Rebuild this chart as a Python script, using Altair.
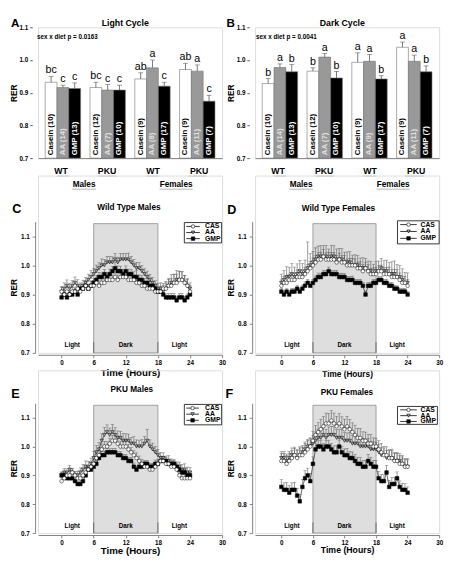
import altair as alt
import pandas as pd

FONT = "Liberation Sans"
GRAY = "#808080"

# ---------------- Panels A / B : bar data ----------------
groups = ["WT M", "PKU M", "WT F", "PKU F"]
group_text = ["WT", "PKU", "WT", "PKU"]
sexes = ["Males", "Females"]
diets = ["Casein", "AA", "GMP"]
bar_fills = ["white", "#999999", "black"]
bar_label_colors = ["black", "#e0e0e0", "white"]

light_mean = [0.932, 0.916, 0.913, 0.916, 0.908, 0.908, 0.942, 0.976, 0.920, 0.971, 0.966, 0.874]
light_sem = [0.018, 0.007, 0.017, 0.016, 0.017, 0.015, 0.019, 0.024, 0.012, 0.019, 0.019, 0.018]
light_letters = ["bc", "c", "c", "bc", "c", "c", "ab", "a", "c", "ab", "a", "c"]
light_n = [10, 14, 13, 12, 7, 10, 9, 8, 17, 9, 11, 7]

dark_mean = [0.928, 0.977, 0.964, 0.966, 1.009, 0.945, 0.993, 0.996, 0.942, 1.039, 0.996, 0.964]
dark_sem = [0.015, 0.011, 0.022, 0.010, 0.011, 0.020, 0.029, 0.021, 0.010, 0.016, 0.019, 0.018]
dark_letters = ["b", "a", "b", "b", "a", "b", "a", "a", "b", "a", "a", "b"]
dark_n = [10, 14, 13, 12, 7, 10, 9, 9, 17, 9, 11, 7]

bar_ticks = [0.7, 0.8, 0.9, 1.0, 1.1]

# ---------------- Panels C-F : time courses ----------------
hours = [i / 2 for i in range(49)]
series = ["CAS", "AA", "GMP"]
dark_period = [6, 18]
period_labels = ["Light", "Dark", "Light"]
period_label_hours = [2, 12, 22]
time_ticks = [0, 6, 12, 18, 24, 30]
rer_ticks = [0.7, 0.8, 0.9, 1.0, 1.1]

wtm_cas = [.91,.90,.91,.90,.91,.91,.92,.91,.92,.93,.92,.93,.93,.94,.93,.94,.94,.95,.95,.95,.96,.95,.96,.96,.96,.95,.95,.95,.94,.94,.93,.93,.92,.92,.92,.91,.91,.91,.92,.92,.93,.93,.94,.94,.95,.95,.94,.93,.91]
wtm_aa = [.91,.92,.93,.92,.93,.94,.93,.92,.93,.94,.95,.96,.97,.98,.99,1.00,1.00,1.01,1.01,1.01,1.02,1.01,1.02,1.02,1.02,1.02,1.01,1.00,.99,.99,.98,.97,.96,.95,.94,.93,.92,.92,.91,.92,.93,.94,.94,.95,.95,.95,.94,.93,.92]
wtm_gmp = [.89,.90,.89,.90,.90,.91,.90,.92,.92,.93,.92,.93,.94,.95,.96,.96,.97,.96,.97,.98,.99,.98,.98,.97,.98,.97,.97,.96,.96,.95,.95,.94,.94,.93,.93,.92,.91,.91,.90,.89,.89,.89,.89,.88,.89,.89,.88,.89,.90]
wtm_cas_sem = [.015,.012,.014,.013,.015,.016,.015,.014,.016,.018,.016,.017,.018,.016,.017,.018,.017,.018,.019,.017,.018,.017,.016,.018,.017,.016,.018,.017,.016,.015,.016,.015,.016,.014,.015,.016,.015,.017,.018,.020,.022,.025,.028,.030,.030,.028,.025,.022,.020]
wtm_aa_sem = [.018,.020,.020,.019,.018,.020,.021,.020,.019,.018,.020,.022,.020,.021,.020,.022,.020,.021,.020,.019,.020,.018,.020,.021,.020,.022,.021,.020,.020,.019,.020,.018,.020,.019,.018,.017,.018,.020,.022,.025,.026,.028,.030,.032,.030,.028,.026,.024,.020]
wtm_gmp_sem = [.012,.013,.012,.014,.013,.012,.014,.013,.015,.014,.013,.015,.014,.016,.015,.014,.016,.015,.017,.016,.020,.018,.017,.016,.018,.017,.016,.018,.022,.017,.016,.015,.016,.015,.014,.015,.013,.014,.013,.012,.013,.014,.013,.012,.013,.014,.013,.012,.013]

wtf_cas = [.93,.94,.94,.95,.95,.95,.96,.96,.96,.97,.98,.99,1.00,1.01,1.02,1.02,1.03,1.02,1.02,1.02,1.02,1.01,1.02,1.01,1.01,1.00,1.00,1.00,1.00,.99,.99,.98,.99,.98,.97,.97,.97,.98,.98,.97,.97,.97,.96,.96,.96,.95,.94,.94,.93]
wtf_aa = [.94,.95,.96,.96,.97,.96,.97,.98,.97,.98,.99,1.00,1.01,1.02,1.03,1.03,1.03,1.03,1.02,1.03,1.03,1.02,1.02,1.02,1.01,1.01,1.01,1.00,1.00,1.00,.99,.99,.99,.98,.98,.97,.98,.98,.99,.98,.98,.97,.97,.97,.96,.96,.95,.94,.94]
wtf_gmp = [.91,.90,.91,.90,.91,.91,.92,.91,.92,.93,.94,.93,.94,.95,.96,.96,.97,.97,.98,.97,.97,.97,.96,.96,.96,.95,.95,.95,.94,.94,.94,.93,.90,.93,.93,.94,.94,.95,.95,.94,.94,.93,.93,.92,.92,.91,.91,.91,.90]
wtf_cas_sem = [.020,.022,.021,.020,.023,.022,.024,.022,.021,.023,.022,.024,.025,.023,.024,.025,.024,.023,.025,.024,.023,.024,.022,.023,.024,.022,.023,.024,.022,.021,.022,.023,.021,.022,.020,.021,.022,.020,.021,.022,.023,.024,.025,.026,.025,.024,.023,.022,.021]
wtf_aa_sem = [.030,.032,.035,.033,.036,.034,.035,.037,.036,.038,.090,.040,.038,.040,.036,.038,.037,.039,.036,.038,.037,.036,.038,.037,.035,.036,.037,.035,.036,.034,.035,.036,.034,.035,.033,.034,.033,.035,.034,.036,.038,.040,.042,.045,.043,.040,.038,.036,.034]
wtf_gmp_sem = [.010,.011,.010,.012,.011,.010,.012,.011,.012,.013,.012,.013,.012,.013,.014,.013,.012,.013,.014,.013,.012,.013,.012,.013,.012,.011,.012,.013,.012,.011,.012,.011,.012,.011,.012,.011,.012,.013,.012,.011,.012,.011,.012,.011,.010,.011,.010,.011,.010]

pkm_cas = [.88,.89,.90,.90,.91,.90,.89,.89,.90,.91,.92,.93,.94,.96,.97,.99,1.00,1.00,1.01,1.02,1.02,1.01,1.00,1.00,1.00,.99,.98,.97,.96,.95,.94,.93,.93,.92,.92,.93,.94,.95,.95,.94,.94,.93,.93,.92,.90,.89,.89,.89,.89]
pkm_aa = [.90,.91,.91,.92,.91,.90,.90,.91,.92,.93,.93,.94,.96,.98,.99,1.02,1.04,1.05,1.04,1.05,1.04,1.03,1.03,1.02,1.02,1.02,1.01,1.01,1.00,1.00,1.00,1.01,1.02,1.00,.99,.98,.97,.96,.96,.95,.95,.94,.94,.93,.93,.92,.92,.91,.91]
pkm_gmp = [.90,.90,.89,.89,.89,.88,.87,.87,.88,.90,.92,.92,.93,.94,.96,.97,.97,.98,.98,.98,.98,.97,.97,.96,.96,.95,.95,.93,.92,.93,.93,.94,.94,.93,.93,.94,.94,.95,.95,.95,.94,.94,.94,.93,.92,.91,.91,.90,.90]
pkm_cas_sem = [.012,.013,.012,.014,.013,.012,.014,.013,.015,.016,.015,.016,.017,.018,.017,.019,.018,.017,.019,.018,.017,.018,.019,.018,.017,.018,.017,.016,.018,.017,.016,.017,.016,.015,.016,.015,.016,.017,.016,.015,.016,.017,.016,.015,.016,.018,.017,.016,.015]
pkm_aa_sem = [.012,.014,.013,.015,.014,.013,.015,.016,.018,.020,.019,.020,.022,.023,.025,.024,.026,.025,.024,.026,.025,.024,.023,.025,.024,.023,.022,.024,.023,.022,.024,.025,.040,.023,.022,.021,.020,.019,.018,.017,.018,.017,.016,.017,.016,.018,.020,.019,.017]
pkm_gmp_sem = [.010,.011,.010,.011,.012,.011,.010,.011,.012,.013,.012,.013,.012,.013,.014,.013,.014,.013,.012,.013,.014,.013,.012,.013,.012,.011,.012,.013,.012,.011,.012,.011,.012,.011,.012,.013,.012,.011,.012,.013,.012,.011,.012,.011,.012,.011,.012,.011,.010]

pkf_cas = [.95,.95,.94,.95,.96,.97,.96,.97,.97,.98,.99,1.00,1.02,1.04,1.05,1.06,1.07,1.08,1.08,1.09,1.08,1.07,1.08,1.07,1.06,1.07,1.06,1.05,1.04,1.03,1.03,1.02,1.02,1.01,1.01,1.00,1.00,.99,.98,.97,.97,.96,.96,.95,.95,.94,.94,.93,.93]
pkf_aa = [.96,.96,.95,.96,.97,.97,.96,.97,.98,.99,1.00,1.00,1.01,1.02,1.03,1.03,1.04,1.03,1.04,1.04,1.04,1.03,1.03,1.03,1.02,1.02,1.02,1.01,1.01,1.01,1.00,1.00,1.00,1.00,.99,.99,.99,.98,.97,.97,.96,.96,.96,.95,.95,.95,.94,.93,.93]
pkf_gmp = [.86,.85,.85,.84,.85,.85,.83,.81,.86,.89,.90,.88,.94,.99,1.00,1.00,.99,1.00,1.00,.99,.98,.98,1.00,.98,.97,.97,.96,.96,.95,.94,.94,.93,.93,.95,.94,.93,.93,.89,.88,.88,.91,.86,.87,.87,.89,.86,.85,.85,.84]
pkf_cas_sem = [.025,.026,.028,.027,.026,.028,.030,.029,.028,.030,.031,.030,.032,.034,.033,.035,.034,.036,.035,.034,.036,.035,.034,.033,.035,.034,.033,.032,.034,.033,.032,.031,.030,.032,.031,.030,.029,.030,.031,.030,.029,.030,.031,.030,.029,.028,.030,.029,.028]
pkf_aa_sem = [.022,.023,.024,.023,.025,.024,.026,.025,.024,.026,.025,.027,.028,.027,.029,.028,.030,.029,.028,.030,.029,.028,.030,.029,.028,.027,.029,.028,.027,.026,.028,.027,.026,.027,.028,.026,.025,.027,.026,.025,.026,.027,.026,.025,.026,.025,.024,.025,.024]
pkf_gmp_sem = [.025,.024,.026,.025,.024,.026,.025,.024,.026,.027,.025,.026,.024,.022,.021,.022,.020,.021,.022,.021,.022,.023,.022,.021,.022,.023,.022,.021,.022,.023,.022,.021,.022,.023,.022,.021,.022,.024,.023,.022,.024,.023,.022,.023,.022,.021,.022,.021,.020]

shape_range = ["circle", "triangle-down", "square"]
fill_range = ["white", "#a0a0a0", "black"]

# ---------------- layout ----------------
W = 190
H1, H2, H3 = 135, 183, 168


def label(txt, x, y, size, weight="bold", align="left", baseline="top"):
    return alt.Chart(pd.DataFrame({"t": [txt]})).mark_text(
        font=FONT, fontSize=size, fontWeight=weight, align=align, baseline=baseline, color="black"
    ).encode(x=alt.value(x), y=alt.value(y), text="t:N")


def bar_panel(letter, letter_x, title, pnote, pnote_x, means, sems, letters, ns):
    H = H1
    labels = [f"{d} ({n})" for d, n in zip(diets * len(groups), ns)]
    df = pd.DataFrame({
        "group": [g for g in groups for _ in diets],
        "diet": diets * len(groups),
        "mean": means, "sem": sems, "letter": letters, "label": labels,
    })
    gscale = alt.Scale(domain=groups, paddingInner=0.21, paddingOuter=0.16)
    oscale = alt.Scale(domain=diets, paddingInner=0, paddingOuter=0)
    ys = alt.Scale(domain=[0.7, 1.1], nice=False, zero=False)
    yaxis = alt.Axis(values=bar_ticks, format=".1f", title="RER", offset=6, tickSize=2.5,
                     labelPadding=2, domain=False, tickColor="#555", labelFontSize=6.5,
                     labelFontWeight="bold", titleFontSize=8.5, titleFontWeight="bold",
                     titlePadding=1, grid=False, labelColor="black", titleColor="black")

    def X(axis=None):
        return alt.X("group:N", sort=groups, scale=gscale, axis=axis)

    def Y(field):
        return alt.Y(field, scale=ys, axis=yaxis)

    XO = alt.XOffset("diet:N", sort=diets, scale=oscale)
    base = alt.Chart(df).transform_calculate(top="datum.mean + datum.sem")
    bars = base.mark_bar(stroke="#707070", strokeWidth=0.6).encode(
        x=X(alt.Axis(labels=False, ticks=False, title=None, domainColor=GRAY, grid=False)),
        xOffset=XO,
        y=Y("mean:Q"), y2=alt.Y2(datum=0.7),
        fill=alt.Fill("diet:N", scale=alt.Scale(domain=diets, range=bar_fills), legend=None),
    )
    err = base.mark_rule(color="#555", strokeWidth=0.8).encode(
        x=X(), xOffset=XO, y=Y("mean:Q"), y2="top:Q")
    caps = base.mark_tick(orient="horizontal", size=5, thickness=0.8, color="#555").encode(
        x=X(), xOffset=XO, y=Y("top:Q"))
    lets = base.mark_text(font=FONT, fontSize=11, baseline="bottom", dy=-1, color="black").encode(
        x=X(), xOffset=XO, y=Y("top:Q"), text="letter:N")
    inner = base.mark_text(font=FONT, fontSize=8, fontWeight="bold", angle=270, align="left",
                           baseline="middle", dx=3).encode(
        x=X(), xOffset=XO, y=alt.Y(datum=0.7, scale=ys, axis=yaxis), text="label:N",
        color=alt.Color("diet:N", scale=alt.Scale(domain=diets, range=bar_label_colors), legend=None))
    gdf = pd.DataFrame({"group": groups, "t": group_text})
    gtext = alt.Chart(gdf).mark_text(font=FONT, fontSize=9, fontWeight="bold", baseline="middle",
                                     color="black").encode(
        x=X(), y=alt.value(H + 13), text="t:N")
    gline = alt.Chart(gdf).transform_calculate(w="length(datum.t) * 6.3").mark_tick(
        orient="horizontal", thickness=0.8, color="#777").encode(
        x=X(), y=alt.value(H + 18.5), size=alt.Size("w:Q", scale=None))
    sdf = pd.DataFrame({"sex": sexes})
    sscale = alt.Scale(domain=sexes, paddingInner=0, paddingOuter=0)
    stext = alt.Chart(sdf).mark_text(font=FONT, fontSize=8.5, fontWeight="bold", baseline="middle",
                                     color="black").encode(
        x=alt.X("sex:N", sort=sexes, scale=sscale, axis=None), y=alt.value(H + 27), text="sex:N")
    sline = alt.Chart(sdf).transform_calculate(w="length(datum.sex) * 4.9").mark_tick(
        orient="horizontal", thickness=0.8, color="#777").encode(
        x=alt.X("sex:N", sort=sexes, scale=sscale, axis=None), y=alt.value(H + 32),
        size=alt.Size("w:Q", scale=None))
    return alt.layer(
        bars, err, caps, lets, inner, gtext, gline, stext, sline,
        label(letter, letter_x, -9.5, 12),
        label(title, 90, -4, 9, align="center", baseline="middle"),
        label(pnote, pnote_x, 10, 6.5, baseline="middle"),
    ).resolve_scale(x="independent").properties(width=W, height=H)


def legend_layers(box, line_x, mark_x, text_x, row0, rstep):
    """Framed key (line + marker + name per series) drawn in pixel space."""
    bx, by, bw, bh = box
    frame = alt.Chart(pd.DataFrame({"k": [0]})).mark_rect(
        fill="white", stroke="black", strokeWidth=0.8).encode(
        x=alt.value(bx), x2=alt.value(bx + bw), y=alt.value(by), y2=alt.value(by + bh))
    ldf = alt.Chart(pd.DataFrame({"series": series})).transform_calculate(
        ly=f"{row0} + indexof({series!r}, datum.series) * {rstep}")
    ly = alt.Y("ly:Q", scale=None)
    lines = ldf.mark_rule(color="black", strokeWidth=0.8).encode(
        x=alt.value(line_x[0]), x2=alt.value(line_x[1]), y=ly)
    marks = ldf.mark_point(filled=True, size=13, stroke="black", strokeWidth=0.6, opacity=1).encode(
        x=alt.value(mark_x), y=ly,
        shape=alt.Shape("series:N", scale=alt.Scale(domain=series, range=shape_range), legend=None),
        fill=alt.Fill("series:N", scale=alt.Scale(domain=series, range=fill_range), legend=None))
    names = ldf.mark_text(font=FONT, fontSize=7, fontWeight="bold", align="left",
                          baseline="middle", color="black").encode(
        x=alt.value(text_x), y=ly, text="series:N")
    return [frame, lines, marks, names]


def ts_panel(cas, aa, gmp, cas_e, aa_e, gmp_e, H, top, xdom, letter, lxy, title, txy,
             leg, time_size, time_pad):
    rows = []
    for name, m, e in (("AA", aa, aa_e), ("GMP", gmp, gmp_e), ("CAS", cas, cas_e)):
        for h, v, s in zip(hours, m, e):
            rows.append({"hour": h, "series": name, "mean": v, "sem": s})
    df = pd.DataFrame(rows)
    xs = alt.Scale(domain=xdom, nice=False, zero=False)
    ys = alt.Scale(domain=[0.7, 1.15], nice=False, zero=False, range=[H, top])
    xaxis = alt.Axis(values=time_ticks, format="d", title="Time (Hours)", offset=2, tickSize=3,
                     labelPadding=2, domainColor=GRAY, tickColor=GRAY, labelFontSize=6.5,
                     labelFontWeight="bold", titleFontSize=time_size, titleFontWeight="bold",
                     titlePadding=time_pad, grid=False, labelFlush=False,
                     labelColor="black", titleColor="black")
    yaxis = alt.Axis(values=rer_ticks, format=".1f", title="RER", offset=3, tickSize=3,
                     labelPadding=3, domainColor=GRAY, tickColor=GRAY, labelFontSize=6.5,
                     labelFontWeight="bold", titleFontSize=8.5, titleFontWeight="bold",
                     titlePadding=2, grid=False, labelColor="black", titleColor="black")

    def X(field="hour:Q"):
        return alt.X(field, scale=xs, axis=xaxis)

    def Y(field=None, datum=None):
        if datum is not None:
            return alt.Y(datum=datum, scale=ys, axis=yaxis)
        return alt.Y(field, scale=ys, axis=yaxis)

    ddf = pd.DataFrame({"start": [dark_period[0]], "end": [dark_period[1]]})
    rect = alt.Chart(ddf).mark_rect(fill="#dedede", stroke="#8c8c8c", strokeWidth=0.8).encode(
        x=X("start:Q"), x2="end:Q", y=Y(datum=0.7), y2=alt.Y2(datum=1.143))
    edges = alt.Chart(pd.DataFrame({"hour": dark_period})).mark_rule(color="#555", strokeWidth=0.8).encode(
        x=X(), y=Y(datum=0.7), y2=alt.Y2(datum=0.737))
    pl = alt.Chart(pd.DataFrame({"hour": period_label_hours, "t": period_labels})).mark_text(
        font=FONT, fontSize=6.5, fontWeight="bold", baseline="middle", color="black").encode(
        x=X(), y=Y(datum=0.726), text="t:N")
    base = alt.Chart(df).transform_calculate(top="datum.mean + datum.sem")
    err = base.mark_rule(color="#555", strokeWidth=0.6).encode(x=X(), y=Y("mean:Q"), y2="top:Q")
    caps = base.mark_tick(orient="horizontal", size=3.5, thickness=0.6, color="#555").encode(
        x=X(), y=Y("top:Q"))
    line = alt.Chart(df).mark_line(color="black", strokeWidth=0.6).encode(
        x=X(), y=Y("mean:Q"), detail="series:N")
    pts = alt.Chart(df).mark_point(filled=True, size=14, stroke="black", strokeWidth=0.5, opacity=1).encode(
        x=X(), y=Y("mean:Q"),
        shape=alt.Shape("series:N", scale=alt.Scale(domain=series, range=shape_range), legend=None),
        fill=alt.Fill("series:N", scale=alt.Scale(domain=series, range=fill_range), legend=None))
    return alt.layer(
        rect, edges, pl, err, caps, line, pts,
        *legend_layers(**leg),
        label(letter, lxy[0], lxy[1], 13),
        label(title, txy[0], txy[1], 8.5, align="center", baseline="middle"),
    ).properties(width=W, height=H)


A = bar_panel("A", -28, "Light Cycle", "sex x diet p = 0.0163", -1,
              light_mean, light_sem, light_letters, light_n)
B = bar_panel("B", -29.6, "Dark Cycle", "sex x diet p = 0.0041", 1,
              dark_mean, dark_sem, dark_letters, dark_n)
C = ts_panel(wtm_cas, wtm_aa, wtm_gmp, wtm_cas_sem, wtm_aa_sem, wtm_gmp_sem, H2, 47.5, [-4.4, 30],
             "C", (-26.6, 28.6), "Wild Type Males", (93.8, 32.6),
             dict(box=(151, 48.5, 38.5, 21), line_x=(153, 167), mark_x=160, text_x=172.4,
                  row0=52.5, rstep=6.3), 10, 1.5)
D = ts_panel(wtf_cas, wtf_aa, wtf_gmp, wtf_cas_sem, wtf_aa_sem, wtf_gmp_sem, H2, 47.5, [-5, 30],
             "D", (-28.6, 29.6), "Wild Type Females", (86, 33.6),
             dict(box=(147, 46.7, 43, 23.8), line_x=(149.8, 166.9), mark_x=158.4, text_x=170.8,
                  row0=50.6, rstep=7.1), 8.5, 4)
E = ts_panel(pkm_cas, pkm_aa, pkm_gmp, pkm_cas_sem, pkm_aa_sem, pkm_gmp_sem, H3, 34, [-4.4, 30],
             "E", (-27.6, 18.6), "PKU Males", (96.8, 19.7),
             dict(box=(151, 35.2, 38.5, 21.1), line_x=(153, 166), mark_x=159.5, text_x=172.4,
                  row0=39, rstep=6.3), 10, 0)
F = ts_panel(pkf_cas, pkf_aa, pkf_gmp, pkf_cas_sem, pkf_aa_sem, pkf_gmp_sem, H3, 34, [-5, 30],
             "F", (-30.6, 18.4), "PKU Females", (94.8, 22.9),
             dict(box=(147, 37.3, 41.2, 18.5), line_x=(149.8, 166.9), mark_x=158.4, text_x=170.8,
                  row0=40.8, rstep=6), 9, 0)

chart = alt.concat(
    A, B, C, D, E, F, columns=2, spacing=alt.RowColnumber(row=18, column=34), bounds="flush"
).resolve_scale(
    x="independent", y="independent", fill="independent", shape="independent",
    color="independent", size="independent"
).properties(padding=0, background="white").configure_view(stroke=None).configure(font=FONT)

chart.save("out.html", embed_options={"renderer": "svg", "actions": False})
